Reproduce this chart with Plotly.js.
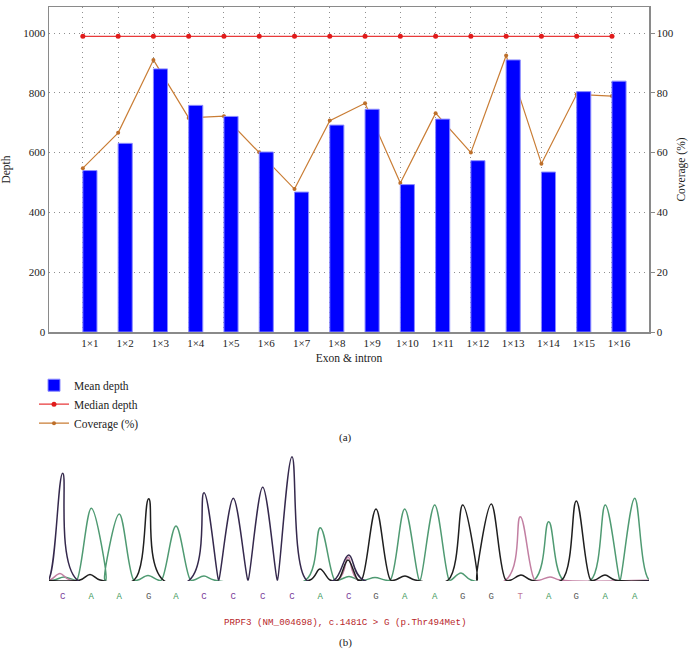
<!DOCTYPE html>
<html>
<head>
<meta charset="utf-8">
<script src="https://cdn.plot.ly/plotly-3.0.1.min.js"></script>
<style>
  body { margin: 0; background: #fff; }
  #chart { width: 690px; height: 663px; }
</style>
</head>
<body>
<div id="chart"></div>
<script>
  // (a) depth / coverage per exon
  const categories = ['1×1', '1×2', '1×3', '1×4', '1×5', '1×6', '1×7', '1×8',
                      '1×9', '1×10', '1×11', '1×12', '1×13', '1×14', '1×15', '1×16'];
  const meanDepth = [540, 631, 880, 758, 721, 602, 468, 692, 745, 493, 712, 573, 910, 535, 804, 839];
  const medianDepth = [989, 989, 989, 989, 989, 989, 989, 989, 989, 989, 989, 989, 989, 989, 989, 989];
  const coverage = [54.8, 66.6, 91.0, 71.6, 72.2, 60.1, 47.8, 70.7, 76.5, 49.8, 73.2, 60.0, 92.5, 56.3, 79.5, 78.9];

  // (b) sanger trace: called bases, peak scan positions and heights
  const bases = ['C', 'A', 'A', 'G', 'A', 'C', 'C', 'C', 'C', 'A', 'C', 'G', 'A', 'A', 'G', 'G', 'T', 'A', 'G', 'A', 'A'];
  const peakScan = [60.7, 89.3, 117.3, 146.7, 174, 202, 231.3, 260.7, 290, 318.3, 346.7,
                    374, 402.7, 432.7, 460.7, 489.3, 518.3, 546.7, 574.3, 603.3, 632.7];
  const peakHeight = [1067, 717, 660, 813, 540, 873, 817, 927, 1233, 523, 250,
                      710, 710, 750, 750, 760, 633, 583, 790, 750, 817];
  // small background peaks
  const minorBase = ['T', 'A', 'G', 'A', 'A', 'G', 'T', 'G', 'A', 'A', 'G', 'A', 'G', 'T', 'G'];
  const minorScan = [58, 62, 88, 146, 202, 318, 346, 346, 347, 373, 403, 459, 519, 548, 603];
  const minorHeight = [65, 30, 55, 45, 40, 110, 230, 200, 35, 25, 40, 70, 50, 30, 50];

  const baseColor = { A: '#4f9a72', C: '#35294d', G: '#1f1f1f', T: '#c27fa2' };
  const letterColor = { A: '#3f9a5c', C: '#7a3c9a', G: '#555555', T: '#c07898' };

  const serif = 'Liberation Serif, Times New Roman, serif';
  const mono = 'Liberation Mono, Courier New, monospace';

  const xBar = categories.map((c, i) => i + 1);
  const xLine = categories.map((c, i) => i + 0.8);

  function channelTrace(ch) {
    var pk = [];
    bases.forEach((b, i) => { if (b === ch) pk.push([peakScan[i], peakHeight[i], 14.5]); });
    minorBase.forEach((b, i) => { if (b === ch) pk.push([minorScan[i], minorHeight[i], 10]); });
    pk.sort((a, b) => a[0] - b[0]);
    var xs = [40], ys = [0];
    pk.forEach(p => {
      xs.push(p[0] - p[2], p[0], p[0] + p[2]);
      ys.push(0, p[1], 0);
    });
    xs.push(660); ys.push(0);
    return {
      x: xs, y: ys, xaxis: 'x2', yaxis: 'y4',
      mode: 'lines', line: { color: baseColor[ch], width: 1.5, shape: 'spline', smoothing: 1 },
      showlegend: false, hoverinfo: 'skip'
    };
  }

  var data = [
    {
      name: 'Mean depth', type: 'bar', x: xBar, y: meanDepth, width: 0.4,
      xaxis: 'x', yaxis: 'y3',
      marker: { color: '#0000ff', line: { color: '#8c8cff', width: 1 } }
    },
    {
      name: 'Median depth', x: xLine, y: medianDepth, xaxis: 'x', yaxis: 'y',
      mode: 'lines+markers',
      line: { color: '#e8393a', width: 1.3 },
      marker: { color: '#e01b1b', size: 5 }
    },
    {
      name: 'Coverage (%)', x: xLine, y: coverage, xaxis: 'x', yaxis: 'y2',
      mode: 'lines+markers',
      line: { color: '#c97d35', width: 1.2 },
      marker: { color: '#bd6f2a', size: 4 }
    },
    channelTrace('A'),
    channelTrace('T'),
    channelTrace('G'),
    channelTrace('C')
  ];

  var topDom = [(653 - 332) / 646, 1];
  var yMax = 1087;
  var gridDash = '1px,4px';

  var layout = {
    width: 690, height: 663,
    margin: { l: 49, r: 41, t: 7, b: 10 },
    paper_bgcolor: '#fff', plot_bgcolor: '#fff',
    font: { family: serif, size: 11, color: '#222' },
    bargap: 0,
    showlegend: true,
    legend: {
      x: -0.025, xanchor: 'left', y: 0.437, yanchor: 'top',
      font: { family: serif, size: 11.5, color: '#222' },
      bgcolor: 'rgba(0,0,0,0)', itemwidth: 30, tracegroupgap: 0
    },
    xaxis: {
      domain: [0, 1], anchor: 'y', range: [-0.16, 16.85],
      tickvals: xBar, ticktext: categories, ticks: '',
      showgrid: false, zeroline: false,
      showline: true, linecolor: '#8a8a8a', linewidth: 1.5, mirror: true,
      tickfont: { family: serif, size: 11 },
      minor: { tickvals: xLine, showgrid: true, gridcolor: '#8f8f8f', griddash: gridDash, gridwidth: 1, ticks: '' },
      title: { text: 'Exon & intron', font: { family: serif, size: 11.5 }, standoff: 6 }
    },
    yaxis: {
      domain: topDom, anchor: 'x', range: [0, yMax],
      tickvals: [0, 200, 400, 600, 800, 1000], ticks: '',
      showgrid: true, gridcolor: '#8f8f8f', griddash: gridDash, zeroline: false,
      showline: true, linecolor: '#8a8a8a', linewidth: 1.5,
      tickfont: { family: serif, size: 11 },
      title: { text: 'Depth', font: { family: serif, size: 11.5 }, standoff: 10 }
    },
    yaxis2: {
      overlaying: 'y', side: 'right', anchor: 'x', range: [0, yMax / 10],
      tickvals: [0, 20, 40, 60, 80, 100], ticks: 'outside', ticklen: 4, tickcolor: '#8a8a8a',
      showgrid: false, zeroline: false,
      showline: true, linecolor: '#8a8a8a', linewidth: 1.5,
      tickfont: { family: serif, size: 11 },
      title: { text: 'Coverage (%)', font: { family: serif, size: 11.5 }, standoff: 4 }
    },
    yaxis3: {
      overlaying: 'y', anchor: 'x', range: [0, yMax], visible: false
    },
    xaxis2: {
      domain: [0, 1], anchor: 'y4', range: [47, 647],
      tickvals: peakScan,
      ticktext: bases.map(b => '<span style="color:' + letterColor[b] + '">' + b + '</span>'),
      ticks: '', showgrid: false, zeroline: false, showline: false,
      ticklabelstandoff: 8,
      tickfont: { family: mono, size: 9 }
    },
    yaxis4: {
      domain: [(653 - 581) / 646, (653 - 450) / 646], anchor: 'x2',
      range: [-10, 1300], visible: false
    },
    annotations: [
      { text: '(a)', xref: 'paper', yref: 'paper', x: (345 - 49) / 600, y: (653 - 437) / 646,
        xanchor: 'center', yanchor: 'middle', showarrow: false, font: { family: serif, size: 11 } },
      { text: 'PRPF3 (NM_004698), c.1481C > G (p.Thr494Met)', xref: 'paper', yref: 'paper',
        x: (345 - 49) / 600, y: (653 - 622) / 646, xanchor: 'center', yanchor: 'middle', showarrow: false,
        font: { family: mono, size: 9.2, color: '#b8262a' } },
      { text: '(b)', xref: 'paper', yref: 'paper', x: (345 - 49) / 600, y: (653 - 642) / 646,
        xanchor: 'center', yanchor: 'middle', showarrow: false, font: { family: serif, size: 11 } }
    ]
  };

  Plotly.newPlot('chart', data, layout, { displayModeBar: false, staticPlot: true });
</script>
</body>
</html>
